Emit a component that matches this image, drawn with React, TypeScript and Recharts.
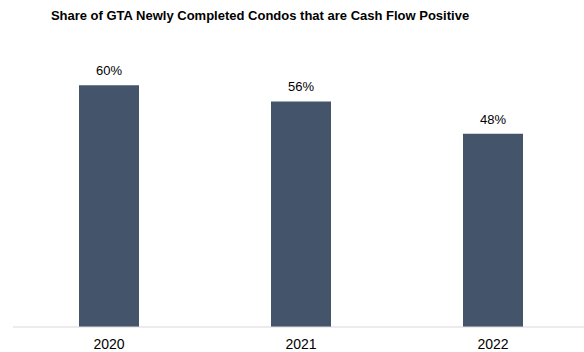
import React from 'react';
import { BarChart, Bar, XAxis, YAxis, LabelList } from 'recharts';

const years = ['2020', '2021', '2022'];
const sharePositive = [60, 56, 48];

const data = years.map((year, i) => ({ year, share: sharePositive[i] }));

const FONT = '"Liberation Sans", Arial, sans-serif';

export default function App() {
  return (
    <div style={{ position: 'absolute', left: 0, top: 0, width: 584, height: 352, overflow: 'hidden', background: '#fff', fontFamily: FONT }}>
      <div
        style={{
          position: 'absolute',
          left: 0,
          top: 8,
          width: 520,
          textAlign: 'center',
          fontWeight: 'bold',
          fontSize: 13,
          color: '#000',
        }}
      >
        Share of GTA Newly Completed Condos that are Cash Flow Positive
      </div>
      <BarChart
        width={600}
        height={352}
        data={data}
        margin={{ top: 45, right: 11, bottom: 0, left: 13 }}
        barSize={60}
      >
        <XAxis
          dataKey="year"
          axisLine={{ stroke: '#d9d9d9', strokeWidth: 1 }}
          tickLine={false}
          tickSize={6}
          tickMargin={6}
          height={25}
          tick={{ fill: '#000', fontSize: 14, fontFamily: FONT }}
        />
        <YAxis hide domain={[0, 70]} />
        <Bar dataKey="share" fill="#44546a" isAnimationActive={false}>
          <LabelList
            dataKey="share"
            position="top"
            offset={10}
            formatter={(v: number) => `${v}%`}
            style={{ fill: '#000', fontSize: 13, fontFamily: FONT }}
          />
        </Bar>
      </BarChart>
    </div>
  );
}
